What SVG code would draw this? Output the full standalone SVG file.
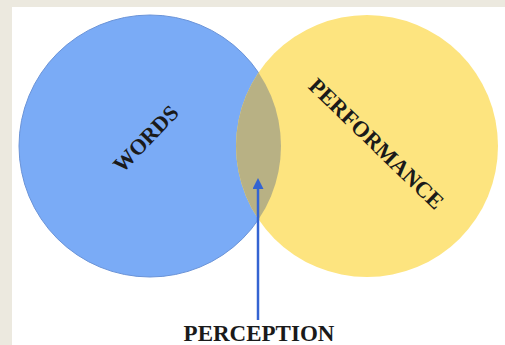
<svg xmlns="http://www.w3.org/2000/svg" width="505" height="345" viewBox="0 0 505 345">
  <style>
    .lbl { font-family: "Liberation Serif", "Times New Roman", serif; font-weight: bold; fill: #1a1a1a; text-anchor: middle; }
  </style>
  <defs>
    <clipPath id="clipBlue"><circle cx="150" cy="146" r="131"/></clipPath>
    <marker id="arrow" markerWidth="11" markerHeight="11" refX="5" refY="5.5" orient="auto" markerUnits="userSpaceOnUse">
      <path d="M0,0 L11,5.5 L0,11 z" fill="#3464d2"/>
    </marker>
  </defs>
  <rect x="0" y="0" width="505" height="345" fill="#ece9df"/>
  <rect x="12" y="7" width="493" height="338" fill="#ffffff"/>
  <g id="words">
    <circle cx="150" cy="146" r="131" fill="#7aabf6" stroke="#6b94d8" stroke-width="1"/>
    <text class="lbl" font-size="22" transform="translate(146,139) rotate(-46)" dy="7" fill="#14213a">WORDS</text>
  </g>
  <g id="performance">
    <circle cx="367" cy="146" r="131" fill="#fde47f"/>
    <circle cx="367" cy="146" r="131" fill="#b8b184" clip-path="url(#clipBlue)"/>
    <text class="lbl" font-size="22.5" transform="translate(376,144) rotate(44)" dy="7">PERFORMANCE</text>
  </g>
  <g id="connectors">
    <line x1="258" y1="320" x2="258" y2="184" stroke="#3464d2" stroke-width="2.5" marker-end="url(#arrow)"/>
  </g>
  <g id="perception">
    <text class="lbl" font-size="23" x="259" y="341">PERCEPTION</text>
  </g>
</svg>
